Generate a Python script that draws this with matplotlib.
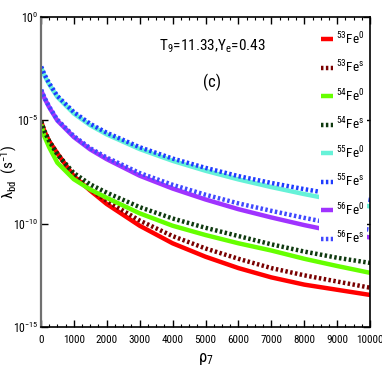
import matplotlib
matplotlib.use("Agg")
import matplotlib.pyplot as plt
from matplotlib import font_manager as fm
import numpy as np
from matplotlib.ticker import FixedLocator, NullLocator, MultipleLocator

# pick a condensed sans font if one is installed
chosen = None
prefs = ['Liberation Sans Narrow', 'Roboto Condensed', 'Open Sans Condensed', 'DejaVu Sans']
for pref in prefs:
    for f in fm.fontManager.ttflist:
        st = str(f.stretch)
        if f.name == pref and f.style == 'normal' and str(f.weight) in ('400', 'normal', 'regular') and \
                (('ondensed' in st) or ('arrow' in f.name) or ('ondensed' in f.name)):
            chosen = f
            break
    if chosen:
        break

if chosen is not None:
    plt.rcParams['font.family'] = [chosen.name, 'Liberation Sans', 'DejaVu Sans']
    plt.rcParams['font.stretch'] = chosen.stretch
    narrow = True
else:
    plt.rcParams['font.family'] = ['Liberation Sans', 'DejaVu Sans']
    narrow = False
plt.rcParams['mathtext.default'] = 'regular'

rho = [10, 100, 250, 500, 1000, 1500, 2000, 3000, 4000, 5000, 6000, 7000, 8000, 9000, 10000]

# log10 of lambda_bd
fe53_0 = [-5.05, -5.5, -6.0, -6.6, -7.7, -8.4, -9.05, -10.1, -10.95, -11.6, -12.15, -12.6, -12.95, -13.2, -13.45]
fe53_s = [-5.05, -5.5, -6.0, -6.6, -7.65, -8.35, -8.9, -9.85, -10.6, -11.2, -11.7, -12.15, -12.5, -12.8, -13.1]
fe54_0 = [-5.2, -5.75, -6.3, -7.05, -7.85, -8.35, -8.75, -9.5, -10.1, -10.55, -10.95, -11.3, -11.7, -12.05, -12.38]
fe54_s = [-5.05, -5.5, -6.0, -6.65, -7.55, -8.1, -8.5, -9.2, -9.75, -10.2, -10.6, -11.0, -11.35, -11.65, -11.9]
fe55_0 = [-2.45, -2.8, -3.25, -3.87, -4.67, -5.24, -5.68, -6.39, -6.96, -7.44, -7.86, -8.23, -8.57, -8.88, -9.17]
fe55_s = [-2.4, -2.75, -3.2, -3.82, -4.6, -5.17, -5.6, -6.3, -6.85, -7.3, -7.7, -8.03, -8.33, -8.6, -8.85]
fe56_0 = [-3.55, -3.9, -4.36, -5.01, -5.81, -6.41, -6.88, -7.68, -8.3, -8.83, -9.3, -9.7, -10.07, -10.4, -10.67]
fe56_s = [-3.52, -3.87, -4.33, -4.97, -5.76, -6.35, -6.8, -7.55, -8.12, -8.6, -9.02, -9.38, -9.72, -10.03, -10.3]

series = [
    (fe53_0, r'$^{53}$Fe$^{0}$', '#ff0000', 'solid'),
    (fe53_s, r'$^{53}$Fe$^{s}$', '#7a0000', 'dot'),
    (fe54_0, r'$^{54}$Fe$^{0}$', '#66ff00', 'solid'),
    (fe54_s, r'$^{54}$Fe$^{s}$', '#0f3a0f', 'dot'),
    (fe55_0, r'$^{55}$Fe$^{0}$', '#66f2d8', 'solid'),
    (fe55_s, r'$^{55}$Fe$^{s}$', '#1f3cff', 'dot'),
    (fe56_0, r'$^{56}$Fe$^{0}$', '#a033ff', 'solid'),
    (fe56_s, r'$^{56}$Fe$^{s}$', '#4048ff', 'dot'),
]

k = 1.0 if narrow else 0.85   # shrink text if no narrow face is available

fig = plt.figure(figsize=(3.82, 3.82), dpi=100)
ax = fig.add_axes([0.107, 0.144, 0.862, 0.8115])

for vals, lab, col, sty in series:
    y = 10.0 ** np.array(vals)
    if sty == 'solid':
        ax.plot(rho, y, color=col, lw=3.2, label=lab, solid_capstyle='butt')
    else:
        ax.plot(rho, y, color=col, lw=3.2, label=lab, linestyle=(0, (0.55, 0.55)),
                dash_capstyle='butt')

ax.set_yscale('log')
ax.set_xlim(0, 10000)
ax.set_ylim(1e-15, 1e0)
ax.yaxis.set_major_locator(FixedLocator([1e-15, 1e-10, 1e-5, 1e0]))
ax.yaxis.set_minor_locator(NullLocator())
ax.set_yticklabels(['10$^{-15}$', '10$^{-10}$', '10$^{-5}$', '10$^{0}$'])
ax.xaxis.set_major_locator(MultipleLocator(1000))
ax.xaxis.set_minor_locator(MultipleLocator(250))
ax.tick_params(axis='both', which='major', direction='in', top=True, right=True,
               length=5, width=1, pad=6)
ax.tick_params(axis='x', which='major', labelsize=8 * k)
ax.tick_params(axis='y', which='major', labelsize=8.5 * k, pad=1.5)
ax.tick_params(axis='x', which='minor', direction='in', top=True, length=2.5, width=0.8)

for s in ['top', 'right', 'bottom']:
    ax.spines[s].set_color('black')
    ax.spines[s].set_linewidth(1.2)
ax.spines['left'].set_color('#707070')
ax.spines['left'].set_linewidth(1.6)

ax.set_xlabel(r'$\rho_{7}$', fontsize=12 * k, labelpad=4)
ax.set_ylabel(r'$\lambda_{bd}$  (s$^{-1}$)', fontsize=11 * k)
ax.yaxis.set_label_coords(-0.066, 0.5)

ax.text(0.52, 0.905, r'T$_{9}$=11.33,Y$_{e}$=0.43', transform=ax.transAxes,
        ha='center', va='center', fontsize=11 * k)
ax.text(0.52, 0.79, '(c)', transform=ax.transAxes, ha='center', va='center', fontsize=12 * k)

leg = ax.legend(loc='upper right', bbox_to_anchor=(0.99, 0.965), fontsize=9.5 * k,
                handlelength=0.9, handletextpad=0.2, labelspacing=0.9,
                borderpad=0.2, borderaxespad=0.0, frameon=True, fancybox=False,
                framealpha=1.0, edgecolor='none', facecolor='white')

fig.savefig('out.png', dpi=100)
